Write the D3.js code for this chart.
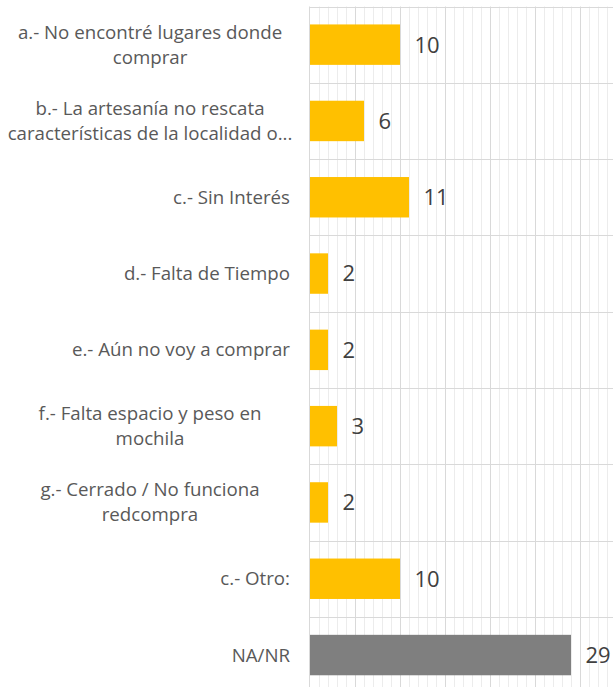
<!DOCTYPE html>
<html>
<head>
<meta charset="utf-8">
<script src="https://cdn.jsdelivr.net/npm/d3@7"></script>
<style>
  body { margin: 0; background: #fff; }
  svg { display: block; }
</style>
</head>
<body>
<svg id="chart" width="613" height="687"></svg>
<script>
'use strict';

var categories = [
	['a.- No encontré lugares donde', 'comprar'],
	['b.- La artesanía no rescata', 'características de la localidad o...'],
	['c.- Sin Interés'],
	['d.- Falta de Tiempo'],
	['e.- Aún no voy a comprar'],
	['f.- Falta espacio y peso en', 'mochila'],
	['g.- Cerrado / No funciona', 'redcompra'],
	['c.- Otro:'],
	['NA/NR']
];
var values = [10, 6, 11, 2, 2, 3, 2, 10, 29];
var colors = ['#ffc000', '#ffc000', '#ffc000', '#ffc000', '#ffc000', '#ffc000', '#ffc000', '#ffc000', '#7f7f7f'];

var svg = d3.select('#chart');
var plotLeft = 309.5, plotTop = 6.5, band = 76.3;

var x = d3.scaleLinear().domain([0, 35]).range([plotLeft, plotLeft + 315]);
var y = d3.scaleBand()
	.domain(d3.range(categories.length))
	.range([plotTop, plotTop + band * categories.length])
	.paddingInner(0.47)
	.paddingOuter(0.235);

// vertical grid, minor every 1, major every 5
svg.append('g')
	.selectAll('line')
	.data(d3.range(1, 35))
	.join('line')
	.attr('x1', function(d) { return Math.round(x(d)) + 0.5; })
	.attr('x2', function(d) { return Math.round(x(d)) + 0.5; })
	.attr('y1', plotTop)
	.attr('y2', 687)
	.attr('stroke', function(d) { return d % 5 === 0 ? '#d9d9d9' : '#ececec'; })
	.attr('stroke-width', 1);

// horizontal grid at category boundaries
svg.append('g')
	.selectAll('line')
	.data(d3.range(categories.length + 1))
	.join('line')
	.attr('x1', plotLeft)
	.attr('x2', 613)
	.attr('y1', function(i) { return Math.round(plotTop + band * i) + 0.5; })
	.attr('y2', function(i) { return Math.round(plotTop + band * i) + 0.5; })
	.attr('stroke', '#d9d9d9');

// axis line
svg.append('line')
	.attr('x1', plotLeft).attr('x2', plotLeft)
	.attr('y1', plotTop).attr('y2', 687)
	.attr('stroke', '#d9d9d9');

// bars
svg.append('g')
	.selectAll('rect')
	.data(values)
	.join('rect')
	.attr('x', x(0) + 0.5)
	.attr('y', function(d, i) { return y(i); })
	.attr('width', function(d) { return x(d) - x(0); })
	.attr('height', y.bandwidth())
	.attr('fill', function(d, i) { return colors[i]; });

// value labels
svg.append('g')
	.selectAll('text')
	.data(values)
	.join('text')
	.attr('x', function(d) { return x(d) + 15; })
	.attr('y', function(d, i) { return y(i) + y.bandwidth() / 2; })
	.attr('dy', '0.36em')
	.attr('font-family', '"Open Sans", sans-serif')
	.attr('font-size', 22)
	.attr('fill', '#404040')
	.text(function(d) { return d; });

// category labels
svg.append('g')
	.selectAll('text')
	.data(categories)
	.join('text')
	.attr('font-family', '"Open Sans", sans-serif')
	.attr('font-size', 18.7)
	.attr('fill', '#595959')
	.each(function(lines, i) {
		var cy = y(i) + y.bandwidth() / 2;
		var lh = 25;
		var t = d3.select(this);
		var single = lines.length === 1;
		t.attr('text-anchor', single ? 'end' : 'middle');
		lines.forEach(function(line, j) {
			t.append('tspan')
				.attr('x', single ? 290 : 150)
				.attr('y', cy + (j - (lines.length - 1) / 2) * lh)
				.attr('dy', '0.35em')
				.text(line);
		});
	});
</script>
</body>
</html>
